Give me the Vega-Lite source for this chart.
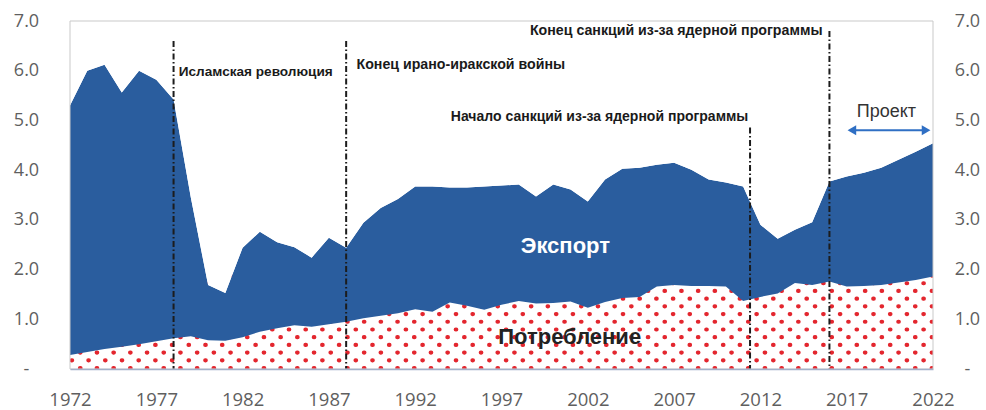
{
  "$schema": "https://vega.github.io/schema/vega-lite/v6.json",
  "width": 863,
  "height": 348,
  "autosize": "none",
  "padding": {"left": 70, "top": 21, "right": 53, "bottom": 41},
  "background": "white",
  "config": {"view": {"stroke": null}, "font": "Liberation Sans"},
  "datasets": {
    "oil": [
      {"year": 1972, "total": 5.3, "consumption": 0.28},
      {"year": 1973, "total": 6.0, "consumption": 0.34},
      {"year": 1974, "total": 6.12, "consumption": 0.4},
      {"year": 1975, "total": 5.56, "consumption": 0.45},
      {"year": 1976, "total": 6.0, "consumption": 0.5},
      {"year": 1977, "total": 5.82, "consumption": 0.56},
      {"year": 1978, "total": 5.42, "consumption": 0.62},
      {"year": 1979, "total": 3.45, "consumption": 0.66},
      {"year": 1980, "total": 1.69, "consumption": 0.58},
      {"year": 1981, "total": 1.53, "consumption": 0.57},
      {"year": 1982, "total": 2.44, "consumption": 0.64},
      {"year": 1983, "total": 2.76, "consumption": 0.75},
      {"year": 1984, "total": 2.55, "consumption": 0.82},
      {"year": 1985, "total": 2.45, "consumption": 0.88},
      {"year": 1986, "total": 2.24, "consumption": 0.85},
      {"year": 1987, "total": 2.64, "consumption": 0.9},
      {"year": 1988, "total": 2.44, "consumption": 0.95},
      {"year": 1989, "total": 2.94, "consumption": 1.02},
      {"year": 1990, "total": 3.24, "consumption": 1.07},
      {"year": 1991, "total": 3.42, "consumption": 1.12},
      {"year": 1992, "total": 3.67, "consumption": 1.2},
      {"year": 1993, "total": 3.67, "consumption": 1.15},
      {"year": 1994, "total": 3.65, "consumption": 1.34},
      {"year": 1995, "total": 3.65, "consumption": 1.27},
      {"year": 1996, "total": 3.67, "consumption": 1.19},
      {"year": 1997, "total": 3.69, "consumption": 1.29},
      {"year": 1998, "total": 3.71, "consumption": 1.37},
      {"year": 1999, "total": 3.47, "consumption": 1.32},
      {"year": 2000, "total": 3.71, "consumption": 1.33},
      {"year": 2001, "total": 3.61, "consumption": 1.36},
      {"year": 2002, "total": 3.37, "consumption": 1.23},
      {"year": 2003, "total": 3.81, "consumption": 1.35},
      {"year": 2004, "total": 4.03, "consumption": 1.43},
      {"year": 2005, "total": 4.05, "consumption": 1.45},
      {"year": 2006, "total": 4.11, "consumption": 1.66},
      {"year": 2007, "total": 4.15, "consumption": 1.69},
      {"year": 2008, "total": 4.01, "consumption": 1.67},
      {"year": 2009, "total": 3.81, "consumption": 1.67},
      {"year": 2010, "total": 3.75, "consumption": 1.66},
      {"year": 2011, "total": 3.67, "consumption": 1.37},
      {"year": 2012, "total": 2.9, "consumption": 1.45},
      {"year": 2013, "total": 2.62, "consumption": 1.52},
      {"year": 2014, "total": 2.8, "consumption": 1.73},
      {"year": 2015, "total": 2.95, "consumption": 1.69},
      {"year": 2016, "total": 3.77, "consumption": 1.76},
      {"year": 2017, "total": 3.87, "consumption": 1.66},
      {"year": 2018, "total": 3.95, "consumption": 1.67},
      {"year": 2019, "total": 4.05, "consumption": 1.69},
      {"year": 2020, "total": 4.21, "consumption": 1.74},
      {"year": 2021, "total": 4.37, "consumption": 1.79},
      {"year": 2022, "total": 4.54, "consumption": 1.86}
    ],
    "dotRowsA": [
      {"level": 0.02}, {"level": 0.33}, {"level": 0.64}, {"level": 0.95},
      {"level": 1.26}, {"level": 1.57}, {"level": 1.88}
    ],
    "dotRowsB": [
      {"level": 0.175}, {"level": 0.485}, {"level": 0.795},
      {"level": 1.105}, {"level": 1.415}, {"level": 1.725}
    ],
    "events": [
      {"year": 1978, "top": 6.6},
      {"year": 1988, "top": 6.6},
      {"year": 2011.4, "top": 4.86},
      {"year": 2016, "top": 6.8}
    ]
  },
  "resolve": {"axis": {"y": "independent"}},
  "layer": [
    {
      "data": {"name": "dotRowsA"},
      "mark": {"type": "rule", "clip": true, "color": "#e3262e", "strokeWidth": 4.2, "strokeCap": "round", "strokeDash": [0.5, 16.2], "strokeDashOffset": 6.7},
      "encoding": {
        "x": {
          "datum": 1972, "type": "quantitative",
          "scale": {"domain": [1972, 2022], "nice": false, "zero": false},
          "axis": {
            "values": [1972, 1977, 1982, 1987, 1992, 1997, 2002, 2007, 2012, 2017, 2022],
            "format": "d", "title": null, "grid": false, "ticks": false, "tickSize": 0,
            "labelFont": "Open Sans", "labelFontSize": 18.5, "labelColor": "#5f5f5f",
            "labelPadding": 21, "labelFlush": false, "labelOverlap": false,
            "domain": true, "domainColor": "#a3b1c9", "domainWidth": 1.5, "zindex": 1
          }
        },
        "x2": {"datum": 2022},
        "y": {"field": "level", "type": "quantitative", "scale": {"domain": [0, 7], "nice": false}, "axis": null}
      }
    },
    {
      "data": {"name": "dotRowsB"},
      "mark": {"type": "rule", "clip": true, "color": "#e3262e", "strokeWidth": 4.2, "strokeCap": "round", "strokeDash": [0.5, 16.2], "strokeDashOffset": 15.05},
      "encoding": {
        "x": {"datum": 1972, "type": "quantitative", "scale": {"domain": [1972, 2022], "nice": false, "zero": false}},
        "x2": {"datum": 2022},
        "y": {"field": "level", "type": "quantitative", "scale": {"domain": [0, 7], "nice": false}, "axis": null}
      }
    },
    {
      "data": {"name": "oil"},
      "mark": {"type": "area", "color": "#2a5d9e", "opacity": 1},
      "encoding": {
        "x": {"field": "year", "type": "quantitative", "scale": {"domain": [1972, 2022], "nice": false, "zero": false}},
        "y": {
          "field": "total", "type": "quantitative",
          "scale": {"domain": [0, 7], "nice": false},
          "axis": {
            "orient": "left", "values": [0, 1, 2, 3, 4, 5, 6, 7],
            "labelExpr": "datum.value == 0 ? '-' : format(datum.value, '.1f')",
            "title": null, "grid": false, "ticks": false, "tickSize": 0, "domain": false,
            "labelFont": "Open Sans", "labelFontSize": 18, "labelColor": "#5f5f5f",
            "labelAlign": "center", "labelBaseline": "middle", "labelPadding": 44,
            "labelFlush": false, "labelOverlap": false
          }
        },
        "y2": {"field": "consumption"}
      }
    },
    {
      "data": {"name": "oil"},
      "mark": {"type": "area", "color": "#ffffff", "opacity": 1},
      "encoding": {
        "x": {"field": "year", "type": "quantitative", "scale": {"domain": [1972, 2022], "nice": false, "zero": false}},
        "y": {
          "field": "total", "type": "quantitative",
          "scale": {"domain": [0, 7], "nice": false},
          "axis": {
            "orient": "right", "values": [0, 1, 2, 3, 4, 5, 6, 7],
            "labelExpr": "datum.value == 0 ? '-' : format(datum.value, '.1f')",
            "title": null, "grid": false, "ticks": false, "tickSize": 0, "domain": false,
            "labelFont": "Open Sans", "labelFontSize": 18, "labelColor": "#5f5f5f",
            "labelAlign": "center", "labelBaseline": "middle", "labelPadding": 34,
            "labelFlush": false, "labelOverlap": false
          }
        },
        "y2": {"datum": 7}
      }
    },
    {
      "data": {"name": "events"},
      "mark": {"type": "rule", "color": "#1c1c1c", "strokeWidth": 2, "strokeDash": [6, 2.5, 1.5, 2.5]},
      "encoding": {
        "x": {"field": "year", "type": "quantitative", "scale": {"domain": [1972, 2022], "nice": false, "zero": false}},
        "y": {"field": "top", "type": "quantitative", "scale": {"domain": [0, 7], "nice": false}, "axis": null},
        "y2": {"datum": 0}
      }
    },
    {
      "data": {"values": [{}]},
      "mark": {"type": "rect", "filled": false, "color": "#c9c9c9", "strokeWidth": 1},
      "encoding": {
        "x": {"datum": 1972, "type": "quantitative"},
        "x2": {"datum": 2022},
        "y": {"datum": 0, "type": "quantitative", "axis": null},
        "y2": {"datum": 7}
      }
    },
    {
      "data": {"values": [{}]},
      "mark": {"type": "text", "text": "Исламская революция", "font": "Liberation Sans", "fontWeight": "bold", "fontSize": 13.6, "align": "left", "baseline": "middle", "color": "#1a1a1a"},
      "encoding": {
        "x": {"datum": 1978.3, "type": "quantitative"},
        "y": {"datum": 5.97, "type": "quantitative", "axis": null}
      }
    },
    {
      "data": {"values": [{}]},
      "mark": {"type": "text", "text": "Конец ирано-иракской войны", "font": "Liberation Sans", "fontWeight": "bold", "fontSize": 14.2, "align": "left", "baseline": "middle", "color": "#1a1a1a"},
      "encoding": {
        "x": {"datum": 1988.6, "type": "quantitative"},
        "y": {"datum": 6.12, "type": "quantitative", "axis": null}
      }
    },
    {
      "data": {"values": [{}]},
      "mark": {"type": "text", "text": "Начало санкций из-за ядерной программы", "font": "Liberation Sans", "fontWeight": "bold", "fontSize": 14, "align": "right", "baseline": "middle", "color": "#1a1a1a"},
      "encoding": {
        "x": {"datum": 2011.3, "type": "quantitative"},
        "y": {"datum": 5.06, "type": "quantitative", "axis": null}
      }
    },
    {
      "data": {"values": [{}]},
      "mark": {"type": "text", "text": "Конец санкций из-за ядерной программы", "font": "Liberation Sans", "fontWeight": "bold", "fontSize": 14.2, "align": "right", "baseline": "middle", "color": "#1a1a1a"},
      "encoding": {
        "x": {"datum": 2015.6, "type": "quantitative"},
        "y": {"datum": 6.8, "type": "quantitative", "axis": null}
      }
    },
    {
      "data": {"values": [{}]},
      "mark": {"type": "text", "text": "Экспорт", "font": "Liberation Sans", "fontWeight": "bold", "fontSize": 22, "align": "center", "baseline": "middle", "color": "#ffffff"},
      "encoding": {
        "x": {"datum": 2000.7, "type": "quantitative"},
        "y": {"datum": 2.48, "type": "quantitative", "axis": null}
      }
    },
    {
      "data": {"values": [{}]},
      "mark": {"type": "text", "text": "Потребление", "font": "Liberation Sans", "fontWeight": "bold", "fontSize": 22, "align": "center", "baseline": "middle", "color": "#222222"},
      "encoding": {
        "x": {"datum": 2000.95, "type": "quantitative"},
        "y": {"datum": 0.65, "type": "quantitative", "axis": null}
      }
    },
    {
      "data": {"values": [{}]},
      "mark": {"type": "text", "text": "Проект", "font": "Liberation Sans", "fontSize": 18, "align": "center", "baseline": "middle", "color": "#333333"},
      "encoding": {
        "x": {"datum": 2019.3, "type": "quantitative"},
        "y": {"datum": 5.16, "type": "quantitative", "axis": null}
      }
    },
    {
      "data": {"values": [{}]},
      "mark": {"type": "rule", "color": "#2f6fc4", "strokeWidth": 2},
      "encoding": {
        "x": {"datum": 2017.3, "type": "quantitative"},
        "x2": {"datum": 2021.6},
        "y": {"datum": 4.8, "type": "quantitative", "axis": null}
      }
    },
    {
      "data": {"values": [{}]},
      "mark": {"type": "point", "shape": "triangle-left", "filled": true, "color": "#2f6fc4", "size": 100, "opacity": 1},
      "encoding": {
        "x": {"datum": 2017.3, "type": "quantitative"},
        "y": {"datum": 4.8, "type": "quantitative", "axis": null}
      }
    },
    {
      "data": {"values": [{}]},
      "mark": {"type": "point", "shape": "triangle-right", "filled": true, "color": "#2f6fc4", "size": 100, "opacity": 1},
      "encoding": {
        "x": {"datum": 2021.6, "type": "quantitative"},
        "y": {"datum": 4.8, "type": "quantitative", "axis": null}
      }
    }
  ]
}
